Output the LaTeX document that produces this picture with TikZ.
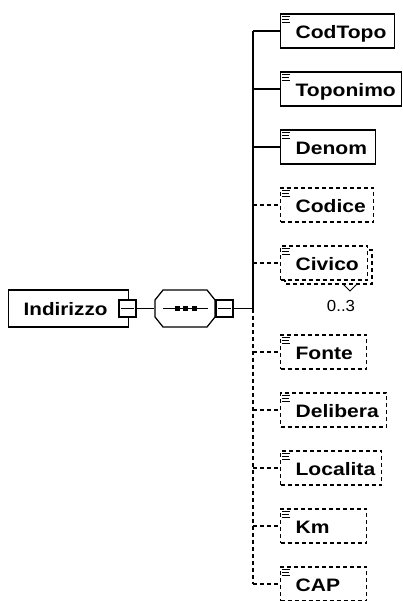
\documentclass[tikz,border=0pt]{standalone}
\usepackage{fontspec}
\usepackage{graphicx}
\setmainfont{Liberation Sans}
\usetikzlibrary{calc}
\newcommand\xel[5]{%
  \node[#5] (#1) at (280,#2) {\makebox[#3pt][l]{\hspace{15pt}\raisebox{0pt}[17pt][2pt]{\scalebox{1.17}[1]{\fontsize{18}{18}\selectfont\bfseries #4}}}};
  \draw[iconline] ($(#1.north west)+(2,3.3)$) -- ++(8,0);
  \draw[iconline] ($(#1.north west)+(2,6)$) -- ++(7,0);
  \draw[iconline] ($(#1.north west)+(2,8.7)$) -- ++(8,0);
}
\begin{document}
\begin{tikzpicture}[x=1pt,y=-1pt,line width=1.25pt,
  solidbox/.style={draw,fill=white,inner sep=0pt,minimum height=34pt,anchor=west},
  optbox/.style={solidbox,dash pattern=on 4pt off 3pt},
  optline/.style={dash pattern=on 4pt off 3pt},
  iconline/.style={line width=0.9pt},
  minusbox/.style={draw,fill=white,inner sep=0pt,minimum width=17pt,minimum height=17pt},
  dotsq/.style={fill=black,inner sep=0pt,minimum width=5pt,minimum height=4.5pt}
]
\useasboundingbox (0,0) rectangle (403,601);
% root element
\node[draw,fill=white,inner sep=0pt,minimum height=37pt,anchor=west] (root) at (8,308.5)
  {\makebox[120pt][l]{\hspace{15pt}\raisebox{0pt}[15pt][2pt]{\scalebox{1.15}[1]{\fontsize{18}{18}\selectfont\bfseries Indirizzo}}}};
\node[minusbox] (rmin) at (127.5,308.5) {};
\draw ($(rmin.west)+(3,0)$) -- ($(rmin.east)+(-3,0)$);
% sequence compositor
\node[inner sep=0pt,minimum width=60pt,minimum height=37pt] (seq) at (185,308.5) {};
\draw[fill=white] (155,300) -- (163,290) -- (207,290) -- (215,300) -- (215,317) -- (207,327) -- (163,327) -- (155,317) -- cycle;
\draw ($(seq.center)+(-22,0)$) -- ($(seq.center)+(23,0)$);
\node[dotsq] (d1) at (177.5,308.5) {};
\node[dotsq] (d2) at (185.5,308.5) {};
\node[dotsq] (d3) at (194,308.5) {};
\node[minusbox] (smin) at (224.5,308.5) {};
\draw ($(smin.west)+(3,0)$) -- ($(smin.east)+(-3,0)$);
\draw (rmin.east) -- (seq.west);
\coordinate (tr) at (253,0);
\coordinate (mid) at (smin.east -| tr);
\draw (smin.east) -- (mid);
% Civico back box
\draw[optline,fill=white] (285,250) rectangle (372,284);
% elements
\xel{e1}{31}{114}{CodTopo}{solidbox}
\xel{e2}{89}{121}{Toponimo}{solidbox}
\xel{e3}{147}{95}{Denom}{solidbox}
\xel{e4}{205}{93}{Codice}{optbox}
\xel{e5}{263}{87}{Civico}{optbox}
\xel{e6}{352}{86}{Fonte}{optbox}
\xel{e7}{410}{106}{Delibera}{optbox}
\xel{e8}{468}{101}{Localita}{optbox}
\xel{e9}{526}{86}{Km}{optbox}
\xel{e10}{584}{86}{CAP}{optbox}
% Civico cardinality
\draw[line width=0.9pt] (343,284) -- (350,291) -- (357,284);
\node[inner sep=0pt] (card) at (341,306) {\scalebox{1.05}[1]{\fontsize{16}{16}\selectfont 0..3}};
% trunk
\draw (e1.west -| tr) -- (mid);
\draw[optline] (mid) -- (e10.west -| tr);
% connectors
\foreach \e in {e1,e2,e3} \draw (\e.west -| tr) -- (\e.west);
\foreach \e in {e4,e5,e6,e7,e8,e9,e10} \draw[optline] (\e.west -| tr) -- (\e.west);
\end{tikzpicture}
\end{document}
